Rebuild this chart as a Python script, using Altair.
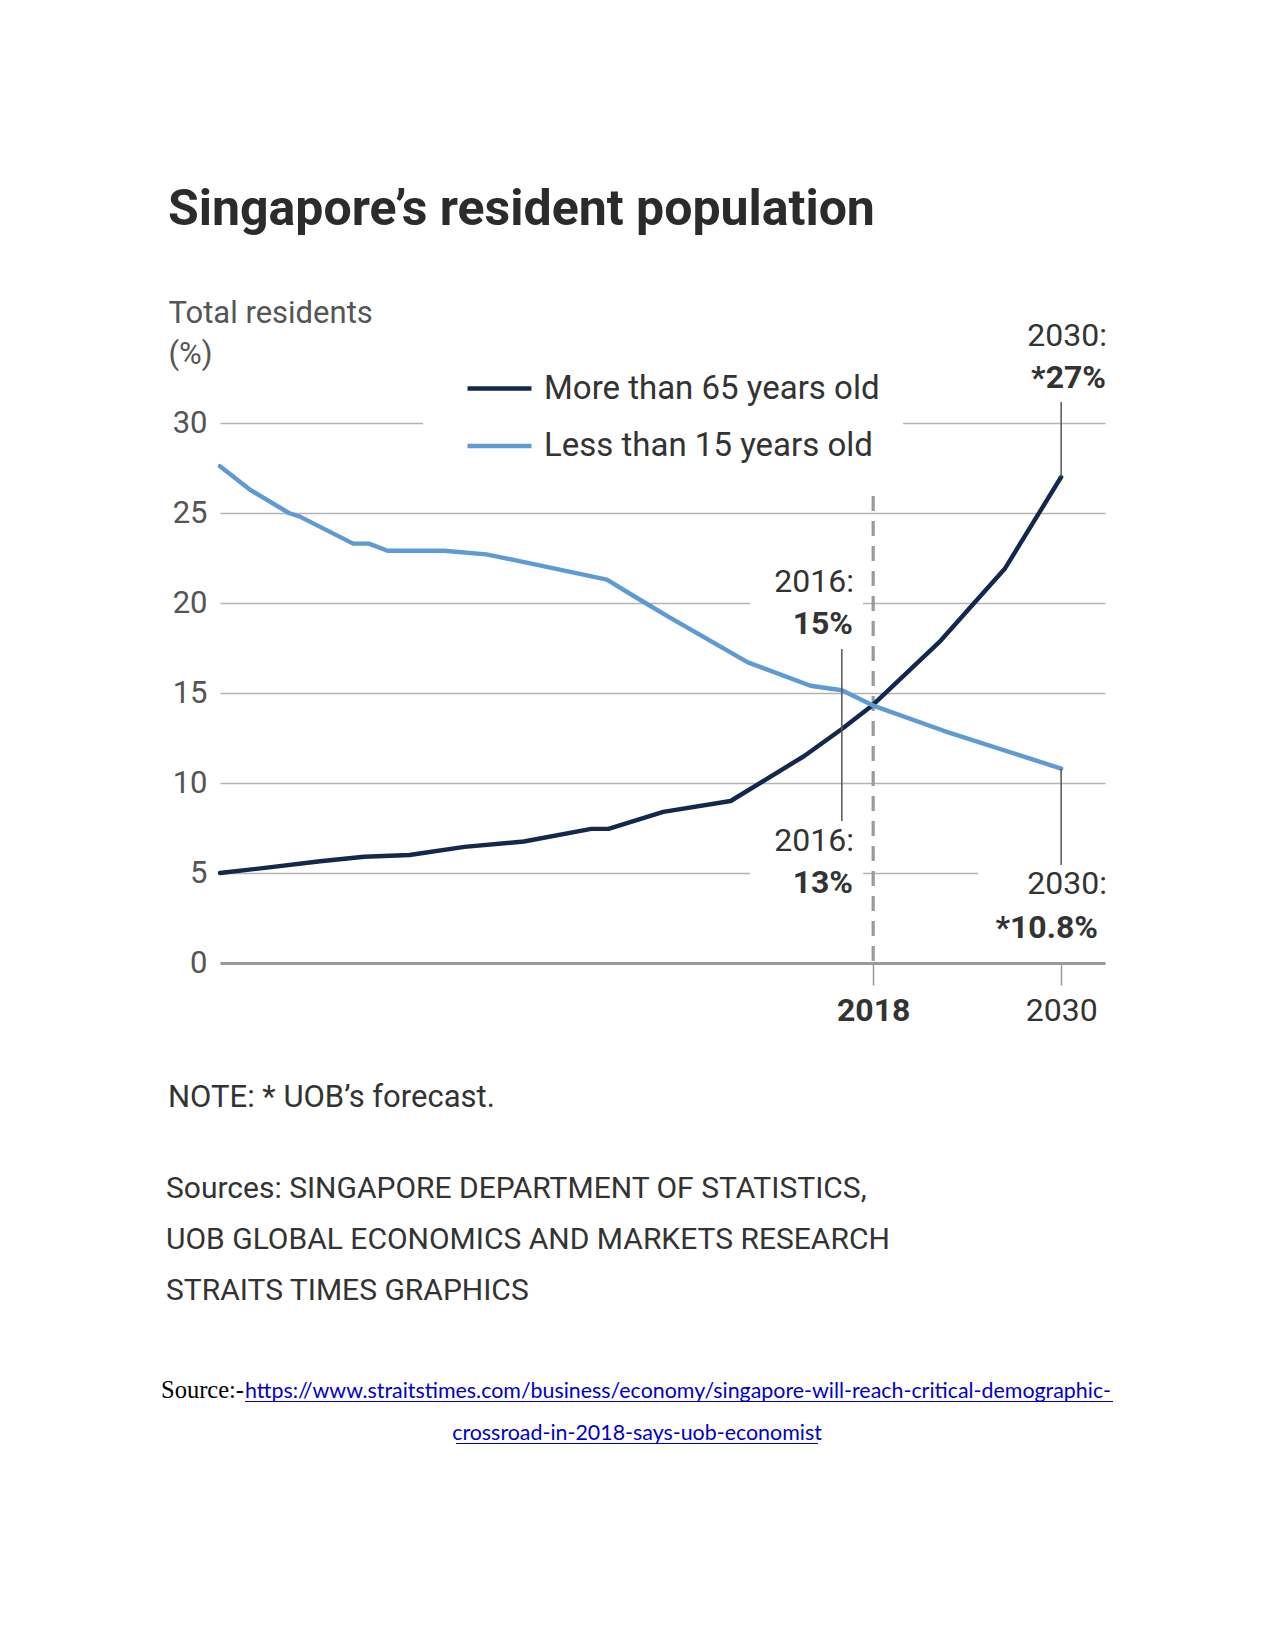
import altair as alt
import pandas as pd

# ---------------- data ----------------
series_old = "More than 65 years old"
series_young = "Less than 15 years old"

years_old = [1976.3, 1979.3, 1982.7, 1985.5, 1988.4, 1991.9, 1995.7, 2000.0, 2001.1,
             2004.6, 2008.9, 2013.6, 2016.0, 2018.0, 2022.3, 2026.4, 2030.0]
values_old = [5.0, 5.3, 5.65, 5.9, 6.0, 6.45, 6.75, 7.45, 7.45,
              8.4, 9.0, 11.5, 13.0, 14.35, 17.9, 21.9, 27.0]

years_young = [1976.3, 1978.2, 1980.7, 1981.4, 1984.8, 1985.8, 1987.0, 1990.6, 1993.3,
               1996.1, 2001.0, 2002.5, 2005.0, 2010.0, 2014.0, 2016.0, 2018.0, 2022.5, 2030.0]
values_young = [27.6, 26.3, 25.0, 24.8, 23.3, 23.3, 22.9, 22.9, 22.7,
                22.2, 21.3, 20.5, 19.2, 16.7, 15.4, 15.15, 14.3, 12.9, 10.8]

y_ticks = [0, 5, 10, 15, 20, 25, 30]
x_ticks = [2018, 2030]
marker_year = [2018]
note_years = [2016, 2030]

title_text = "Singapore\u2019s resident population"
y_title = ["Total residents", "(%)"]
note_text = "NOTE: * UOB\u2019s forecast."
sources = ["Sources: SINGAPORE DEPARTMENT OF STATISTICS,",
           "UOB GLOBAL ECONOMICS AND MARKETS RESEARCH",
           "STRAITS TIMES GRAPHICS"]
link1 = "https://www.straitstimes.com/business/economy/singapore-will-reach-critical-demographic-"
link2 = "crossroad-in-2018-says-uob-economist"

DARK = "#13284c"
LIGHT = "#5e9ad3"
GRID = "#b4b4b4"
TXT = "#333333"

df = pd.concat([
    pd.DataFrame({"year": years_old, "value": values_old, "series": series_old}),
    pd.DataFrame({"year": years_young, "value": values_young, "series": series_young}),
])

W, H = 885, 540
xscale = alt.Scale(domain=[1976.3, 2032.8], nice=False, zero=False)
yscale = alt.Scale(domain=[0, 30], nice=False)

x_axis = alt.Axis(values=x_ticks, format="d", grid=False, domainColor="#9a9a9a",
                  domainWidth=3, tickColor="#9a9a9a", tickWidth=1.5, tickSize=22,
                  labelFontSize=32, labelColor=TXT, labelPadding=10, labelFont="Roboto",
                  labelFontWeight=alt.ExprRef(expr="datum.value == 2018 ? 'bold' : 'normal'"))


def X():
    return alt.X("year:Q", scale=xscale, title=None, axis=x_axis)


def one(**kw):
    return pd.DataFrame({k: [v] for k, v in kw.items()})


def label(text, x, y, size=32, weight="normal", align="right", color=TXT, font="Roboto"):
    return alt.Chart(one(t=text)).mark_text(
        align=align, baseline="alphabetic", fontSize=size, fontWeight=weight,
        font=font, color=color
    ).encode(text="t:N", x=alt.value(x), y=alt.value(y))


def whitebox(x, x2, y, y2):
    return alt.Chart(one(a=0)).mark_rect(fill="white", strokeWidth=0).encode(
        x=alt.value(x), x2=alt.value(x2), y=alt.value(y), y2=alt.value(y2))


def connector(year, y, y2):
    return alt.Chart(one(year=year)).mark_rule(color="#555555", strokeWidth=1.5).encode(
        x=X(), y=alt.value(y), y2=alt.value(y2))


lines = alt.Chart(df).mark_line(strokeWidth=4.4, strokeJoin="round", strokeCap="round").encode(
    x=X(),
    y=alt.Y("value:Q", scale=yscale,
            axis=alt.Axis(values=y_ticks, grid=True, gridColor=GRID, gridWidth=1.3,
                          domain=False, ticks=False, labelPadding=13, labelFontSize=31,
                          labelColor="#555555", labelFont="Roboto",
                          title=y_title, titleAngle=0, titleAlign="left",
                          titleBaseline="alphabetic", titleX=-52, titleY=-101,
                          titleFontSize=31, titleFontWeight="normal", titleColor="#555555",
                          titleFont="Roboto", titleLineHeight=41)),
    color=alt.Color("series:N",
                    scale=alt.Scale(domain=[series_old, series_young], range=[DARK, LIGHT]),
                    legend=alt.Legend(title=None, orient="none", legendX=222, legendY=-92,
                                      symbolType="stroke", symbolSize=4096, symbolStrokeWidth=4.5,
                                      labelFontSize=33, labelColor=TXT, labelFont="Roboto",
                                      labelOffset=10, labelLimit=700, rowPadding=5.5, padding=23,
                                      fillColor="white")),
    detail="series:N",
)

dashed = alt.Chart(pd.DataFrame({"year": marker_year})).mark_rule(
    color="#9a9a9a", strokeWidth=3.2, strokeDash=[15, 10]
).encode(x=X(), y=alt.value(73), y2=alt.value(H))

layers = [
    whitebox(203, 240, -8, 8),
    whitebox(530, 643, 140, 220),
    whitebox(530, 643, 400, 492),
    whitebox(758, 895, 430, 470),
    dashed,
    lines,
    connector(note_years[0], 226, 398),
    connector(note_years[1], -21, 54),
    connector(note_years[1], 346, 442),
    label("2016:", 634, 168.5),
    label("15%", 633, 210.5, weight="bold"),
    label("2016:", 634, 427.5),
    label("13%", 633, 469.5, weight="bold"),
    label("2030:", 887, -77),
    label("*27%", 886, -35, weight="bold"),
    label("2030:", 887, 470.5),
    label("*10.8%", 878, 515, weight="bold"),
    label(note_text, -52, 683.5, size=31, align="left"),
    label(sources[0], -54, 774.5, size=30, align="left"),
    label(sources[1], -54, 825.5, size=30, align="left"),
    label(sources[2], -54, 876.5, size=30, align="left"),
    label("Source:-", -59, 975, size=24.5, align="left", color="#000000", font="Liberation Serif"),
    label(link1, 25, 975, size=21.4, align="left", color="#0000cc", font="Lato"),
    label(link2, 417, 1017, size=21.4, align="center", color="#0000cc", font="Lato"),
    alt.Chart(one(a=0)).mark_rule(color="#0000cc", strokeWidth=1).encode(
        x=alt.value(25), x2=alt.value(893), y=alt.value(978.5)),
    alt.Chart(one(a=0)).mark_rule(color="#0000cc", strokeWidth=1).encode(
        x=alt.value(236), x2=alt.value(598), y=alt.value(1020.5)),
]

chart = alt.layer(*layers).properties(
    width=W, height=H,
    title=alt.Title(text=title_text, anchor="start", frame="group", fontSize=50,
                    font="Roboto", fontWeight="bold", color="#2b2b2b", dx=-52,
                    baseline="alphabetic", offset=22),
    autosize=alt.AutoSizeParams(type="none"),
    padding={"left": 212, "top": 415, "right": 150, "bottom": 520},
).configure(
    font="Roboto", background="white",
    view=alt.ViewConfig(stroke="transparent", strokeWidth=0),
)

chart.save("out.html", embed_options={"renderer": "svg", "actions": False})
